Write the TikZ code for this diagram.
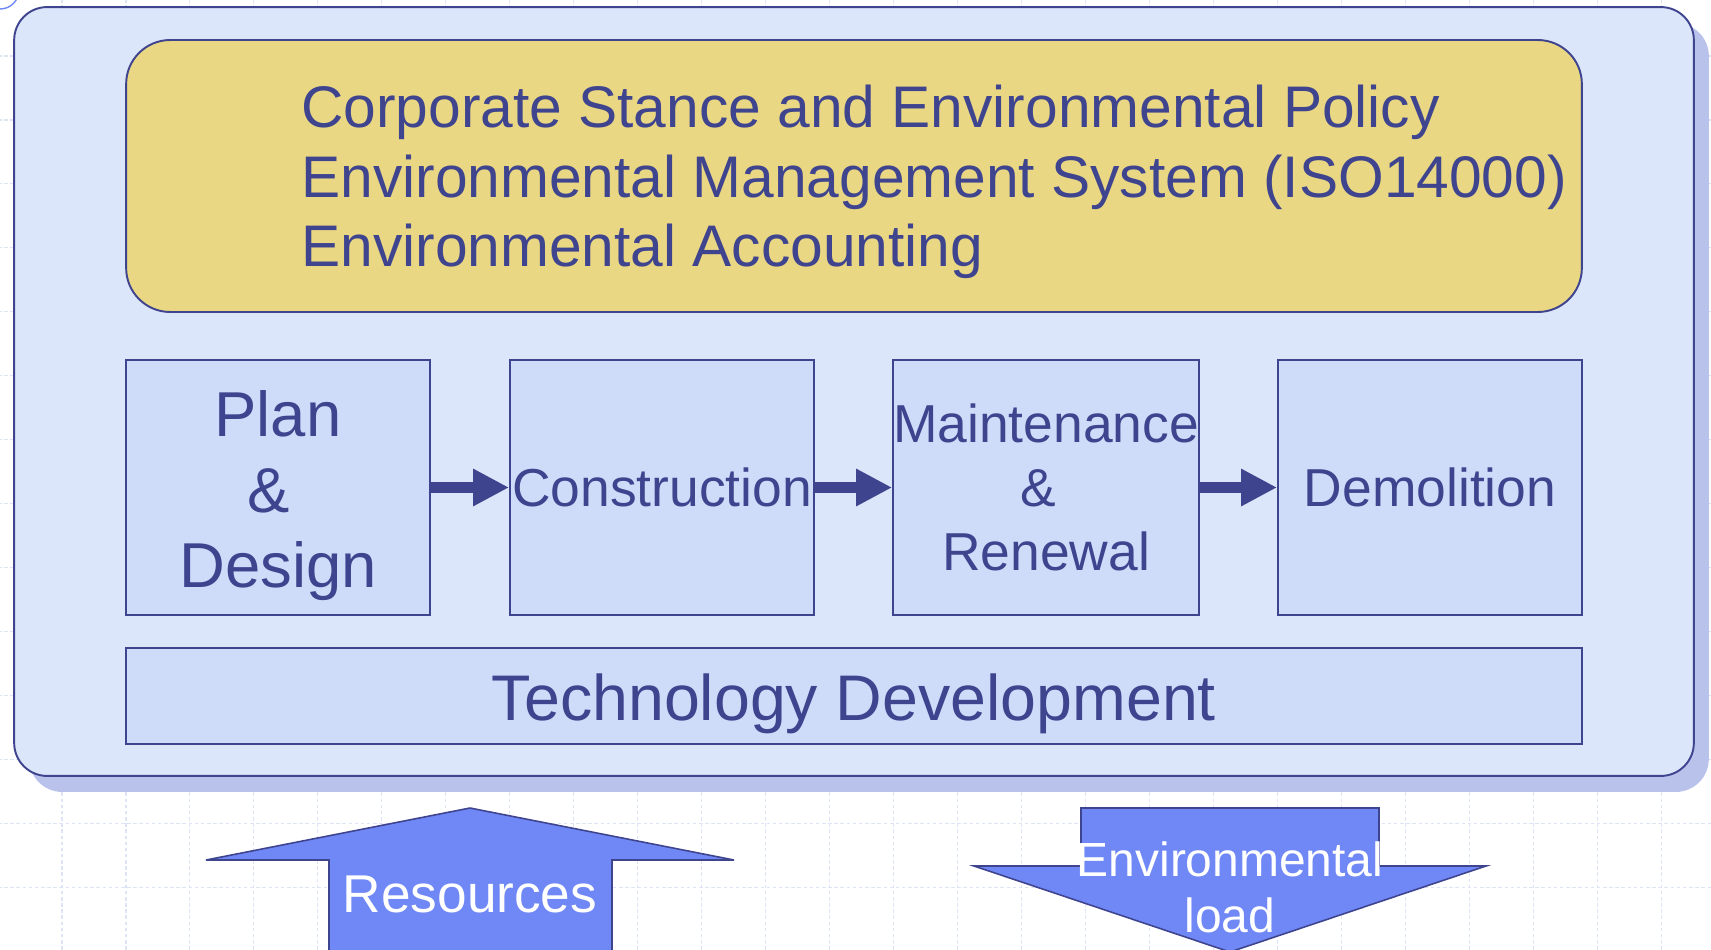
\documentclass[tikz,border=0pt]{standalone}
\usepackage{fontspec}
\setmainfont{Liberation Sans}
\usetikzlibrary{arrows.meta,shadows}

\definecolor{InkBlue}{HTML}{3F448F}
\definecolor{FrameBlue}{HTML}{DCE6FA}
\definecolor{ShadowBlue}{HTML}{B8C2EA}
\definecolor{PolicyGold}{HTML}{EAD783}
\definecolor{StageBlue}{HTML}{CEDCFA}
\definecolor{LoadBlue}{HTML}{7088F5}
\definecolor{GridBlue}{HTML}{DDE4F6}

\begin{document}
\begin{tikzpicture}[x=0.02cm,y=-0.02cm]

\tikzset{
  GridStyle/.style = { draw=GridBlue, line width=0.6pt,
                       dash pattern=on 2pt off 1.5pt },
  FrameStyle/.style = { rectangle, rounded corners=0.66cm, draw=InkBlue,
                        line width=1.1pt, fill=FrameBlue,
                        minimum width=33.6cm, minimum height=15.38cm,
                        drop shadow={shadow xshift=0.3cm, shadow yshift=-0.32cm,
                                     fill=ShadowBlue, opacity=1} },
  PolicyStyle/.style = { rectangle, rounded corners=0.88cm, draw=InkBlue,
                         line width=1.1pt, fill=PolicyGold,
                         minimum width=29.12cm, minimum height=5.44cm },
  StageStyle/.style = { rectangle, draw=InkBlue, line width=1.1pt,
                        fill=StageBlue, inner sep=0pt, align=center,
                        text=InkBlue, minimum width=6.08cm, minimum height=5.1cm,
                        font=\fontsize{30.4}{36.6}\selectfont },
  FlowStyle/.style = { draw=InkBlue, line width=6.2pt,
                       -{Triangle[length=0.72cm,width=0.7cm]} },
  LoadStyle/.style = { draw=InkBlue, line width=0.9pt, fill=LoadBlue },
  LoadText/.style = { text=white, inner sep=0pt, align=center },
}

  \useasboundingbox (0,0) rectangle (1711,950);
  \clip (0,0) rectangle (1711,950);

  \draw[GridStyle, shift={(-2,-8)}] (0,0) grid[step=1.28cm] (1730,970);
  \draw[draw=LoadBlue, line width=0.8pt] (0,-10) circle[radius=0.38cm];

  \node[FrameStyle] (frame) at (854,391.5) {};

  \node[PolicyStyle] (policy) at (854,176) {};
  \node[anchor=west, inner sep=0pt, align=left, text=InkBlue,
        font=\fontsize{33.4}{39.7}\selectfont] (policytxt) at (301,182)
    {Corporate Stance and Environmental Policy\\
     Environmental Management System (ISO14000)\\
     Environmental Accounting};

  \node[StageStyle, font=\fontsize{36.1}{43}\selectfont] (plan) at (278,487.5)
    {\rule{0pt}{1.25cm}Plan\\\&\rule{0.3em}{0pt}\\Design};
  \node[StageStyle] (constr) at (662,487.5) {Construction};
  \node[StageStyle] (maint) at (1046,487.5)
    {Maintenance\\\&\rule{0.3em}{0pt}\\Renewal};
  \node[StageStyle] (demol) at (1430,487.5) {Demolition};

  \draw[FlowStyle] (plan) -- (constr);
  \draw[FlowStyle] (constr) -- (maint);
  \draw[FlowStyle] (maint) -- (demol);

  \node[StageStyle, minimum width=29.12cm, minimum height=1.92cm,
        text height=0.96cm, text depth=0pt,
        font=\fontsize{36.7}{43}\selectfont] (tech) at (854,696)
    {Technology Development};

  % resources in, load out
  \draw[LoadStyle] (329,970) -- (329,860) -- (206,860) -- (470,808)
    -- (734,860) -- (612,860) -- (612,970) -- cycle;
  \draw[LoadStyle] (1081,866) -- (1081,808) -- (1379,808) -- (1379,866)
    -- (1486,866) -- (1230,952) -- (974,866) -- cycle;

  \node[LoadText, anchor=base, font=\fontsize{30.3}{36}\selectfont] (res)
    at (470,912) {Resources};
  \node[LoadText, font=\fontsize{27.3}{31.7}\selectfont] (load)
    at (1230,887.5) {Environmental\\load};

\end{tikzpicture}
\end{document}
